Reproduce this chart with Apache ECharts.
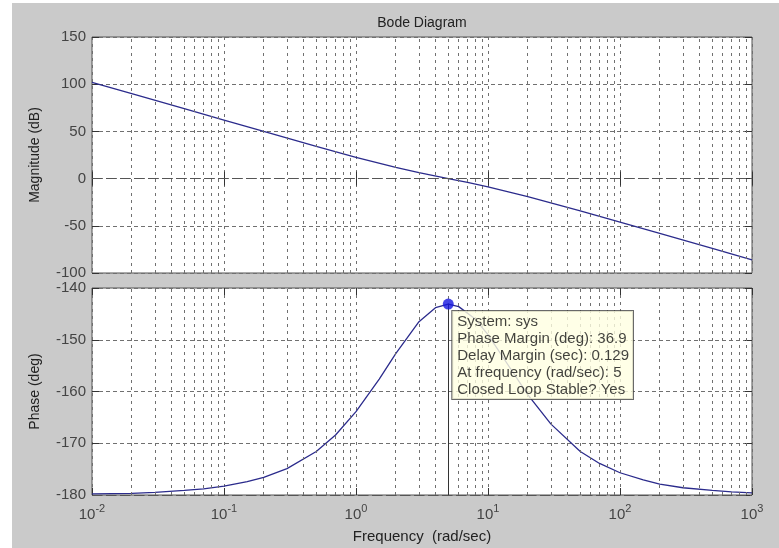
<!DOCTYPE html>
<html>
<head>
<meta charset="utf-8">
<title>Bode Diagram</title>
<script src="https://cdn.jsdelivr.net/npm/echarts@6/dist/echarts.min.js"></script>
<style>
html, body { margin: 0; padding: 0; width: 100%; height: 100%; background: #fff; }
#chart { width: 779px; height: 548px; }
</style>
</head>
<body>
<div id="chart"></div>
<script>
// magnitude curve (rad/sec -> dB)
var magFreq = [0.01, 0.02, 0.05, 0.1, 0.2, 0.5, 1, 2, 3, 5, 7, 10, 20, 50, 100, 200, 500, 1000];
var magDb = [101.9, 89.9, 74.0, 62.0, 49.9, 34.1, 22.5, 11.9, 6.4, 0.0, -4.1, -8.8, -19.0, -34.1, -46.1, -58.1, -74.0, -86.0];

// phase curve (rad/sec -> deg)
var phaseFreq = [0.01, 0.02, 0.03, 0.05, 0.07, 0.1, 0.15, 0.2, 0.3, 0.5, 0.7, 1, 1.5, 2, 3, 4, 5, 6, 8, 10,
  15, 20, 30, 50, 70, 100, 150, 200, 300, 500, 700, 1000];
var phaseDeg = [-179.8, -179.7, -179.5, -179.1, -178.8, -178.3, -177.4, -176.6, -174.9, -171.6, -168.4, -163.9,
  -157.6, -152.7, -146.5, -143.8, -143.1, -143.6, -146.0, -149.0, -155.8, -160.6, -166.3, -171.6, -173.9,
  -175.7, -177.1, -177.9, -178.6, -179.1, -179.4, -179.6];

// minor log grid (2..9 of every decade)
var minorFreq = [0.02, 0.03, 0.04, 0.05, 0.06, 0.07, 0.08, 0.09,
  0.2, 0.3, 0.4, 0.5, 0.6, 0.7, 0.8, 0.9,
  2, 3, 4, 5, 6, 7, 8, 9,
  20, 30, 40, 50, 60, 70, 80, 90,
  200, 300, 400, 500, 600, 700, 800, 900];

// phase margin point and data tip
var marginPoint = [5, -143.1];
var tipLines = ['System: sys', 'Phase Margin (deg): 36.9', 'Delay Margin (sec): 0.129',
  'At frequency (rad/sec): 5', 'Closed Loop Stable? Yes'];

var font = 'Liberation Sans';
var curveColor = '#2b2b8c';
var gridColor = '#707070';

function pairs(xs, ys) {
  return xs.map(function (x, i) { return [x, ys[i]]; });
}

var vGrid = minorFreq.map(function (f) { return { xAxis: f }; });
var dotted = { color: gridColor, type: [3, 4], width: 1 };

function freqAxis(gridIndex, position, withLabels) {
  return {
    type: 'log',
    logBase: 10,
    gridIndex: gridIndex,
    position: position,
    min: 0.01,
    max: 1000,
    splitNumber: 5,
    axisLine: { show: false },
    axisTick: { show: true, inside: true, length: 7, lineStyle: { color: '#333' } },
    axisLabel: withLabels ? {
      show: true,
      margin: 8,
      color: '#444',
      fontFamily: font,
      formatter: function (v) {
        return '{b|10}{s|' + Math.round(Math.log10(v)) + '}';
      },
      rich: {
        b: { fontSize: 15, fontFamily: font, color: '#444', lineHeight: 19, verticalAlign: 'bottom' },
        s: { fontSize: 11, fontFamily: font, color: '#444', lineHeight: 11, verticalAlign: 'top' }
      }
    } : { show: false },
    splitLine: { show: position === 'bottom', lineStyle: dotted }
  };
}

function valueAxis(gridIndex, position, min, max, interval, name) {
  var left = position === 'left';
  return {
    type: 'value',
    gridIndex: gridIndex,
    position: position,
    min: min,
    max: max,
    interval: interval,
    name: left ? name : '',
    nameLocation: 'middle',
    nameGap: 50,
    nameRotate: 90,
    nameTextStyle: { fontFamily: font, fontSize: 14, color: '#222' },
    axisLine: { show: false },
    axisTick: { show: true, inside: true, length: 7, lineStyle: { color: '#333' } },
    axisLabel: { show: left, margin: 6, fontFamily: font, fontSize: 15, color: '#444' },
    splitLine: { show: left, lineStyle: { color: gridColor, type: [4, 3], width: 1 } }
  };
}

var option = {
  backgroundColor: '#ffffff',
  animation: false,
  graphic: [{
    type: 'rect',
    z: -10,
    shape: { x: 12, y: 3, width: 767, height: 545 },
    style: { fill: '#cacaca' }
  }],
  title: {
    text: 'Bode Diagram',
    left: 417,
    top: 11,
    textAlign: 'center',
    textStyle: { fontFamily: font, fontSize: 14, fontWeight: 'normal', color: '#222' }
  },
  grid: [
    { left: 92, top: 37, width: 660, height: 236, show: true, backgroundColor: '#fff', borderColor: '#555', borderWidth: 1 },
    { left: 92, top: 288, width: 660, height: 207, show: true, backgroundColor: '#fff', borderColor: '#555', borderWidth: 1 }
  ],
  xAxis: [
    freqAxis(0, 'bottom', false),
    freqAxis(0, 'top', false),
    Object.assign(freqAxis(1, 'bottom', true), {
      name: 'Frequency  (rad/sec)',
      nameLocation: 'middle',
      nameGap: 34,
      nameTextStyle: { fontFamily: font, fontSize: 15, color: '#222' }
    }),
    freqAxis(1, 'top', false)
  ],
  yAxis: [
    valueAxis(0, 'left', -100, 150, 50, 'Magnitude (dB)'),
    valueAxis(0, 'right', -100, 150, 50, ''),
    valueAxis(1, 'left', -180, -140, 10, 'Phase (deg)'),
    valueAxis(1, 'right', -180, -140, 10, '')
  ],
  series: [
    {
      name: 'Magnitude',
      type: 'line',
      xAxisIndex: 0,
      yAxisIndex: 0,
      data: pairs(magFreq, magDb),
      symbol: 'none',
      lineStyle: { color: curveColor, width: 1.3 },
      markLine: {
        silent: true,
        symbol: 'none',
        label: { show: false },
        lineStyle: dotted,
        data: vGrid.concat([{ yAxis: 0, lineStyle: { color: '#555', type: [10, 4], width: 1 } }])
      }
    },
    {
      name: 'Phase',
      type: 'line',
      xAxisIndex: 2,
      yAxisIndex: 2,
      data: pairs(phaseFreq, phaseDeg),
      symbol: 'none',
      lineStyle: { color: curveColor, width: 1.3 },
      markLine: {
        silent: true,
        symbol: 'none',
        label: { show: false },
        lineStyle: dotted,
        data: vGrid.concat([
          { yAxis: -180, lineStyle: { color: '#555', type: [10, 4], width: 1 } },
          [
            { coord: [marginPoint[0], -180], lineStyle: { color: '#333', type: 'solid', width: 1 } },
            { coord: marginPoint }
          ]
        ])
      }
    },
    {
      name: 'Margin',
      type: 'scatter',
      xAxisIndex: 2,
      yAxisIndex: 2,
      z: 10,
      data: [marginPoint],
      symbol: 'circle',
      symbolSize: 11,
      itemStyle: { color: '#1515e0' },
      label: {
        show: true,
        position: [9.5, 12.5],
        align: 'left',
        verticalAlign: 'top',
        formatter: function () { return tipLines.join('\n'); },
        fontFamily: font,
        fontSize: 15,
        lineHeight: 17,
        color: '#111',
        backgroundColor: '#ffffe1',
        borderColor: '#444',
        borderWidth: 1,
        padding: [2, 4, 1, 5]
      }
    }
  ]
};

var chart = echarts.init(document.getElementById('chart'));
chart.setOption(option);
</script>
</body>
</html>
